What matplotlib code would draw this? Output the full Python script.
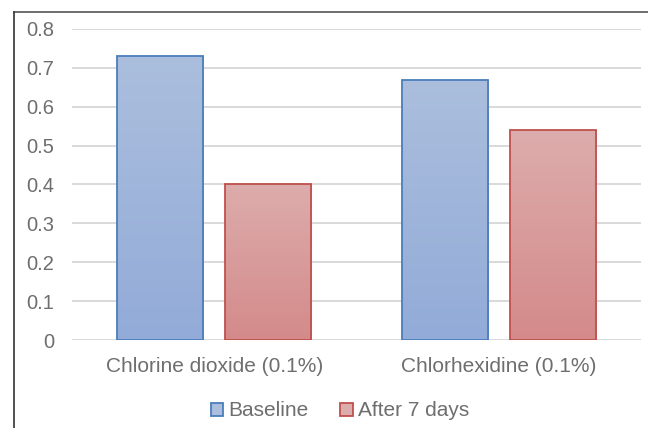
import matplotlib
matplotlib.use("Agg")
import matplotlib.pyplot as plt
import numpy as np
from matplotlib.colors import LinearSegmentedColormap
from matplotlib.lines import Line2D

categories = ["Chlorine dioxide (0.1%)", "Chlorhexidine (0.1%)"]
series_names = ["Baseline", "After 7 days"]
baseline = [0.73, 0.67]
after7 = [0.40, 0.54]
yticks = [0, 0.1, 0.2, 0.3, 0.4, 0.5, 0.6, 0.7, 0.8]
ytick_labels = ["0", "0.1", "0.2", "0.3", "0.4", "0.5", "0.6", "0.7", "0.8"]

plt.rcParams['font.family'] = ['Liberation Sans', 'DejaVu Sans']
text_color = "#6e6e6e"

fig = plt.figure(figsize=(6.48, 4.28), dpi=100)
ax = fig.add_axes([72/648, 1-340/428, 569/648, 311/428])

x = np.arange(len(categories))
width = 0.303
offset = 0.19

grads = [
    (("#abbedd", "#92abd8"), "#4a7ebb"),
    (("#ddacac", "#d48a8a"), "#c0504d"),
]
handles = []
for i, (vals, name) in enumerate(zip([baseline, after7], series_names)):
    (ctop, cbot), edge = grads[i]
    cmap = LinearSegmentedColormap.from_list("g%d" % i, [cbot, ctop])
    pos = x + (-offset if i == 0 else offset)
    bars = ax.bar(pos, vals, width, color="none", edgecolor=edge, linewidth=1.3, zorder=3)
    for b in bars:
        bx, by = b.get_x(), b.get_y()
        bw, bh = b.get_width(), b.get_height()
        grad = np.linspace(0, 1, 256).reshape(-1, 1)
        im = ax.imshow(grad, cmap=cmap, origin="lower", aspect="auto",
                       extent=[bx, bx + bw, by, by + bh], zorder=2)
        im.set_clip_path(b)
    handles.append(plt.Rectangle((0, 0), 1, 1, facecolor=ctop, edgecolor=edge, linewidth=1.3))

ax.set_xlim(-0.5, 1.5)
ax.set_ylim(0, 0.8)
ax.set_yticks(yticks)
ax.set_yticklabels(ytick_labels)
ax.set_xticks(x)
ax.set_xticklabels(categories)
ax.yaxis.grid(True, color="#d9d9d9", linewidth=1.4, zorder=0)
ax.set_axisbelow(True)
for s in ax.spines.values():
    s.set_visible(False)
ax.tick_params(axis="both", length=0, labelsize=14.5, labelcolor=text_color)
ax.tick_params(axis="y", pad=13)
ax.tick_params(axis="x", pad=12, labelsize=15)

leg = fig.legend(handles, series_names, loc="center", bbox_to_anchor=(340/648, 1-411/428),
                 ncol=2, frameon=False, fontsize=15, labelcolor=text_color,
                 handlelength=0.6, handleheight=0.6, handletextpad=0.25, columnspacing=1.5)

fig.add_artist(Line2D([13.5/648, 1], [1-11.5/428, 1-11.5/428], color="#555555", linewidth=1.2,
                      transform=fig.transFigure))
fig.add_artist(Line2D([13.5/648, 13.5/648], [0, 1-11.5/428], color="#333333", linewidth=1.2,
                      transform=fig.transFigure))

fig.savefig("out.png", dpi=100)
